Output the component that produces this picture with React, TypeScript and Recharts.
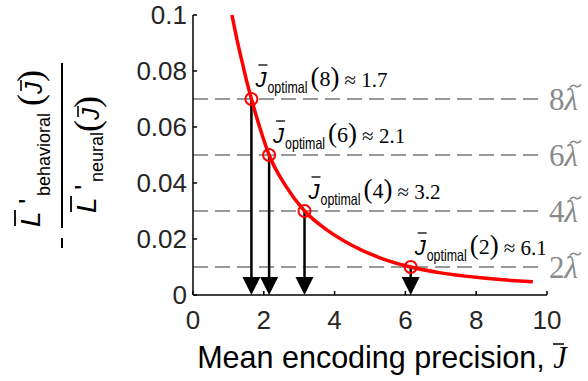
import React from 'react';
import { ComposedChart, Line, XAxis, YAxis, ReferenceLine, ReferenceDot } from 'recharts';

const curveJ = [1.1, 1.25, 1.4, 1.52, 1.65, 1.9, 2.15, 2.6, 3.15, 3.8, 4.5, 5.3, 6.15, 7.0, 8.0, 9.0, 9.6];
const curveValue = [0.1, 0.0908, 0.0826, 0.0762, 0.07, 0.0593, 0.05, 0.0393, 0.03, 0.0231, 0.0177, 0.0132, 0.01, 0.0079, 0.0063, 0.0052, 0.0047];

const optimalJ = [1.65, 2.15, 3.15, 6.15];
const optimalValue = [0.07, 0.05, 0.03, 0.01];
const setSizes = ['8', '6', '4', '2'];
const optimalText = ['1.7', '2.1', '3.2', '6.1'];

const levelValues = [0.07, 0.05, 0.03, 0.01];
const levelLabels = ['8', '6', '4', '2'];

const xTicks = [0, 2, 4, 6, 8, 10];
const yTicks = [0, 0.02, 0.04, 0.06, 0.08, 0.1];

const curveData = curveJ.map((J, i) => ({ J, value: curveValue[i] }));

const SANS = 'Liberation Sans, Arial, Helvetica, sans-serif';
const SERIF = 'Liberation Serif, Times New Roman, serif';

const YLabel = () => (
  <g transform="rotate(-90)">
    {/* numerator */}
    <text x={-227} y={40} fontFamily={SANS} fontStyle="italic" fontSize={28} fill="#000">L</text>
    <line x1={-226} y1={15} x2={-210} y2={15} stroke="#000" strokeWidth={1.8} />
    <text x={-204} y={38} fontFamily={SANS} fontSize={28} fill="#000">'</text>
    <text x={-196} y={50} fontFamily={SANS} fontSize={18} fill="#000">behavioral</text>
    <text x={-106} y={42} fill="#000">
      <tspan fontFamily={SERIF} fontSize={36}>(</tspan>
      <tspan fontFamily={SANS} fontStyle="italic" fontSize={24}>J</tspan>
      <tspan fontFamily={SERIF} fontSize={36}>)</tspan>
    </text>
    <line x1={-91} y1={21} x2={-80} y2={21} stroke="#000" strokeWidth={1.6} />
    {/* fraction bar and minus */}
    <line x1={-228} y1={62} x2={-63} y2={62} stroke="#000" strokeWidth={2} />
    <line x1={-248} y1={62} x2={-238} y2={62} stroke="#000" strokeWidth={2} />
    {/* denominator */}
    <text x={-213} y={96} fontFamily={SANS} fontStyle="italic" fontSize={28} fill="#000">L</text>
    <line x1={-212} y1={71} x2={-196} y2={71} stroke="#000" strokeWidth={1.8} />
    <text x={-190} y={94} fontFamily={SANS} fontSize={28} fill="#000">'</text>
    <text x={-182} y={103} fontFamily={SANS} fontSize={18} fill="#000">neural</text>
    <text x={-132} y={99} fill="#000">
      <tspan fontFamily={SERIF} fontSize={36}>(</tspan>
      <tspan fontFamily={SANS} fontStyle="italic" fontSize={24}>J</tspan>
      <tspan fontFamily={SERIF} fontSize={36}>)</tspan>
    </text>
    <line x1={-117} y1={78} x2={-106} y2={78} stroke="#000" strokeWidth={1.6} />
  </g>
);

const XLabel = (props: any) => {
  const vb = props.viewBox || { x: 193, width: 354 };
  const cx = vb.x + vb.width / 2 + 12;
  return (
    <g>
      <text x={cx} y={368} textAnchor="middle" fill="#000" fontFamily={SANS} fontSize={30.5}>
        <tspan>Mean encoding precision, </tspan>
        <tspan fontFamily={SERIF} fontStyle="italic">J</tspan>
      </text>
      <line x1={cx + 171} y1={344} x2={cx + 182} y2={344} stroke="#000" strokeWidth={1.5} />
    </g>
  );
};

const makeOptimalShape = (i: number) => (p: any) => {
  const cx = p.cx;
  const cy = p.cy;
  return (
    <g>
      <circle cx={cx} cy={cy} r={6} fill="none" stroke="#ff0000" strokeWidth={2} />
      <text x={cx + 4} y={cy - 12} fontFamily={SANS} fontStyle="italic" fontSize={22} fill="#000">J</text>
      <line x1={cx + 7} y1={cy - 34} x2={cx + 16} y2={cy - 34} stroke="#000" strokeWidth={1.3} />
      <text x={cx + 16} y={cy - 6} fontFamily={SANS} fontSize={16.5} fill="#000" textLength={40} lengthAdjust="spacingAndGlyphs">optimal</text>
      <text x={cx + 59} y={cy - 13} fontFamily={SERIF} fill="#000">
        <tspan fontSize={27}>(</tspan>
        <tspan fontSize={22}>{setSizes[i]}</tspan>
        <tspan fontSize={27}>)</tspan>
      </text>
      <text x={cx + 93} y={cy - 12} fontFamily={SERIF} fontSize={21} fill="#000">{'\u2248 ' + optimalText[i]}</text>
    </g>
  );
};

const makeLevelShape = (i: number) => (p: any) => {
  const tx = p.cx + 23;
  const ty = p.cy - 13;
  return (
    <g>
      <text x={p.cx + 2} y={p.cy + 11} fontFamily={SERIF} fontSize={31} fill="#8a8a8a">
        <tspan>{levelLabels[i]}</tspan>
        <tspan fontStyle="italic">{'\u03bb'}</tspan>
      </text>
      <path
        d={`M ${tx} ${ty + 1.5} q 2.5 -3.5 5.5 -1.5 t 5.5 -1.5`}
        fill="none"
        stroke="#8a8a8a"
        strokeWidth={1.6}
      />
    </g>
  );
};

const ArrowShape = (p: any) => {
  const x = p.x1;
  const yTop = Math.min(p.y1, p.y2);
  const yBot = Math.max(p.y1, p.y2);
  return (
    <g>
      <line x1={x} y1={yTop} x2={x} y2={yBot - 15} stroke="#000" strokeWidth={2.5} />
      <polygon points={`${x - 9},${yBot - 18} ${x + 9},${yBot - 18} ${x},${yBot}`} fill="#000" />
    </g>
  );
};

export default function App() {
  return (
    <div style={{ position: 'absolute', left: 0, top: 0, width: 588, height: 381, background: '#fff' }}>
      <ComposedChart width={588} height={381} data={curveData} margin={{ top: 15, right: 41, bottom: 0, left: 0 }}>
        <XAxis
          dataKey="J"
          type="number"
          domain={[0, 10]}
          ticks={xTicks}
          height={86}
          tickSize={-4}
          tickMargin={20}
          axisLine={{ stroke: '#000', strokeWidth: 1.5 }}
          tickLine={{ stroke: '#000', strokeWidth: 1.5 }}
          tick={{ fill: '#262626', fontSize: 26, fontFamily: SANS }}
          label={<XLabel />}
        />
        <YAxis
          type="number"
          domain={[0, 0.1]}
          ticks={yTicks}
          width={193}
          tickSize={-4}
          tickMargin={10}
          tickFormatter={(v: number) => String(v)}
          axisLine={{ stroke: '#000', strokeWidth: 1.5 }}
          tickLine={{ stroke: '#000', strokeWidth: 1.5 }}
          tick={{ fill: '#262626', fontSize: 26, fontFamily: SANS }}
          label={<YLabel />}
        />
        {levelValues.map((v, i) => (
          <ReferenceLine
            key={'lvl' + i}
            segment={[{ x: 0, y: v }, { x: 9.75, y: v }]}
            stroke="#999999"
            strokeWidth={2}
            strokeDasharray="15 7"
          />
        ))}
        {levelValues.map((v, i) => (
          <ReferenceDot key={'lbl' + i} x={10} y={v} r={0} shape={makeLevelShape(i)} />
        ))}
        {optimalJ.map((j, i) => (
          <ReferenceLine
            key={'arr' + i}
            segment={[{ x: j, y: optimalValue[i] }, { x: j, y: 0 }]}
            shape={ArrowShape}
          />
        ))}
        <Line
          dataKey="value"
          type="monotone"
          stroke="#ff0000"
          strokeWidth={3.5}
          dot={false}
          activeDot={false}
          isAnimationActive={false}
        />
        {optimalJ.map((j, i) => (
          <ReferenceDot key={'opt' + i} x={j} y={optimalValue[i]} r={6} shape={makeOptimalShape(i)} />
        ))}
      </ComposedChart>
    </div>
  );
}
